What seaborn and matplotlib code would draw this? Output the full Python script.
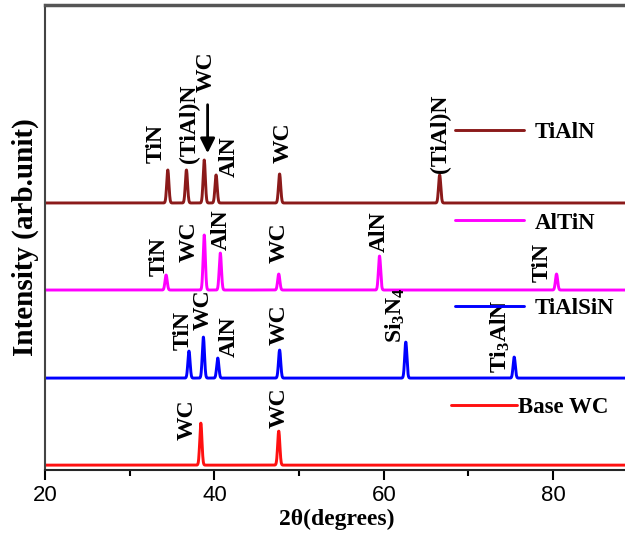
import numpy as np
import pandas as pd
import matplotlib
matplotlib.use("Agg")
import matplotlib.pyplot as plt
import seaborn as sns
from matplotlib.lines import Line2D
from matplotlib.legend import Legend

# XRD peaks (2theta, height above baseline)
samples = ['TiAlN', 'AlTiN', 'TiAlSiN', 'Base WC']
colors = ['#8b1a1a', '#ff00ff', '#0000ff', '#ff1010']
baselines = [267, 180, 92, 5]

tialn_pos = [34.5, 36.7, 38.8, 40.2, 47.7, 66.6]
tialn_h = [33, 33, 43, 28, 29, 28]
altin_pos = [34.3, 38.8, 40.7, 47.6, 59.5, 80.4]
altin_h = [15, 55, 37, 16, 34, 16]
tialsin_pos = [37.0, 38.7, 40.4, 47.7, 62.6, 75.4]
tialsin_h = [27, 41, 20, 28, 36, 21]
wc_pos = [38.4, 47.6]
wc_h = [42, 34]

peak_pos = [tialn_pos, altin_pos, tialsin_pos, wc_pos]
peak_h = [tialn_h, altin_h, tialsin_h, wc_h]

# phase labels: text, x, y (bottom of rotated text)
tialn_lbl = ['TiN', '(TiAl)N', 'WC', 'AlN', 'WC', '(TiAl)N']
tialn_lx = [33.1, 37.0, 39.0, 41.8, 48.1, 66.7]
tialn_ly = [307, 307, 378, 293, 307, 297]
altin_lbl = ['TiN', 'WC', 'AlN', 'WC', 'AlN', 'TiN']
altin_lx = [33.5, 37.0, 40.8, 47.7, 59.5, 78.7]
altin_ly = [194, 208, 220, 207, 218, 188]
tialsin_lbl = ['TiN', 'WC', 'AlN', 'WC', 'Si$_3$N$_4$', 'Ti$_3$AlN']
tialsin_lx = [36.3, 38.7, 41.7, 47.7, 61.4, 73.8]
tialsin_ly = [120, 140, 113, 125, 127, 97]
wc_lbl = ['WC', 'WC']
wc_lx = [36.8, 47.7]
wc_ly = [30, 42]

labels = [tialn_lbl, altin_lbl, tialsin_lbl, wc_lbl]
label_x = [tialn_lx, altin_lx, tialsin_lx, wc_lx]
label_y = [tialn_ly, altin_ly, tialsin_ly, wc_ly]

# legend anchor (x, y) for each sample
leg_x = [68.4, 68.4, 68.4, 67.9]
leg_y = [337, 247, 162, 63]

sns.set_style('ticks')
plt.rcParams['font.family'] = ['Liberation Serif', 'DejaVu Serif']
plt.rcParams['text.color'] = 'black'
plt.rcParams['axes.labelcolor'] = 'black'
plt.rcParams['xtick.color'] = 'black'
plt.rcParams['mathtext.fontset'] = 'custom'
plt.rcParams['mathtext.rm'] = 'Liberation Serif:bold'
plt.rcParams['mathtext.it'] = 'Liberation Serif:bold'
plt.rcParams['mathtext.bf'] = 'Liberation Serif:bold'

# build profiles
theta = np.linspace(20, 90, 3500)
rows = []
for name, base, pos, hh in zip(samples, baselines, peak_pos, peak_h):
    y = np.full_like(theta, float(base))
    for p, h in zip(pos, hh):
        y += h * np.exp(-0.5 * ((theta - p) / 0.13) ** 2)
    rows.append(pd.DataFrame({'theta': theta, 'I': y, 'sample': name}))
df = pd.concat(rows, ignore_index=True)

fig = plt.figure(figsize=(6.25, 5.41), dpi=100)
ax = fig.add_axes([0.072, 0.131, 0.935, 0.86])

sns.lineplot(data=df, x='theta', y='I', hue='sample', palette=colors,
             hue_order=samples, linewidth=2.1, legend=False, ax=ax)

for lbls, lx, ly in zip(labels, label_x, label_y):
    for t, x, y in zip(lbls, lx, ly):
        ax.text(x, y, t, rotation=90, ha='center', va='bottom',
                fontsize=17, fontweight='bold')

# arrow over the main WC peak of TiAlN
ax.annotate('', xy=(39.2, 314), xytext=(39.2, 368),
            arrowprops=dict(arrowstyle='-|>', color='black', lw=2,
                            mutation_scale=22))

for name, c, lx, ly in zip(samples, colors, leg_x, leg_y):
    h = Line2D([], [], color=c, lw=2.1)
    lg = Legend(ax, [h], [name], loc='center left',
                bbox_to_anchor=(lx, ly), bbox_transform=ax.transData,
                frameon=False, borderpad=0, borderaxespad=0,
                handlelength=3.0 if name != 'Base WC' else 2.9,
                handletextpad=0.5 if name != 'Base WC' else 0.05,
                prop={'family': 'Liberation Serif', 'weight': 'bold', 'size': 16.5})
    ax.add_artist(lg)

ax.set_xlim(20, 89)
ax.set_ylim(0, 465)
ax.set_yticks([])
ax.set_xticks([20, 40, 60, 80])
ax.set_xticks([30, 50, 70], minor=True)
ax.tick_params(axis='x', which='major', length=7, width=1.5, direction='out')
ax.tick_params(axis='x', which='minor', length=4, width=1.5, direction='out')
for lab in ax.get_xticklabels():
    lab.set_family(['Liberation Sans', 'DejaVu Sans'])
    lab.set_fontsize(16)
ax.spines['right'].set_visible(False)
ax.spines['top'].set_color('#555555')
ax.spines['top'].set_linewidth(2.5)
ax.spines['left'].set_color('#444444')
ax.spines['left'].set_linewidth(1.5)
ax.spines['bottom'].set_linewidth(1.5)

ax.set_xlabel('2θ(degrees)', fontsize=17, fontweight='bold', labelpad=2)
ax.set_ylabel('Intensity (arb.unit)', fontsize=21, fontweight='bold', labelpad=4)

fig.savefig('out.png', dpi=100)
